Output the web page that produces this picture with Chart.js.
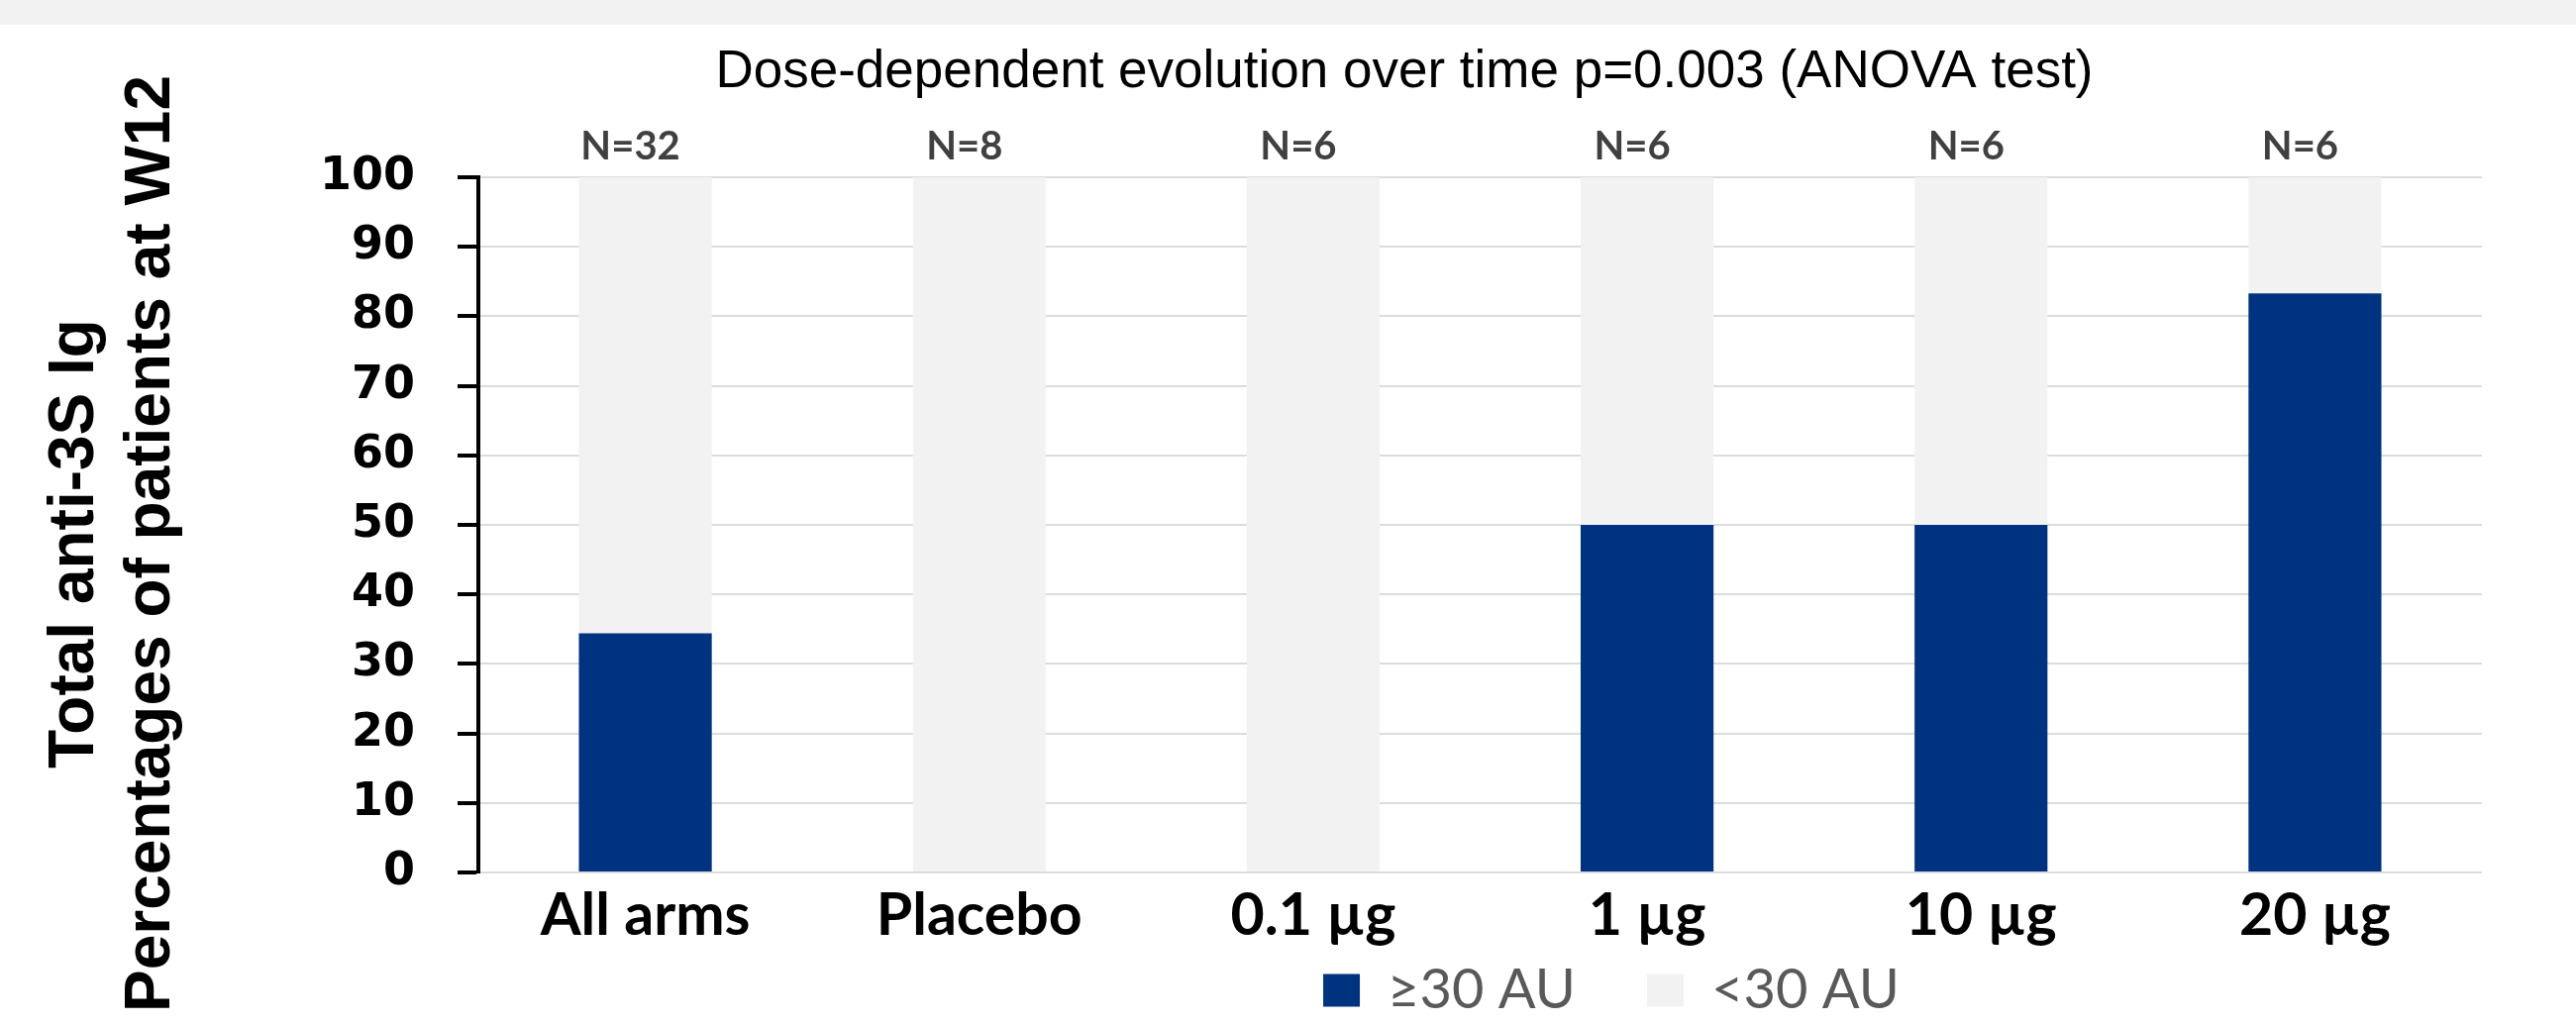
<!DOCTYPE html>
<html>
<head>
<meta charset="utf-8">
<script src="https://cdn.jsdelivr.net/npm/chart.js@4.4.1/dist/chart.umd.min.js"></script>
<style>
  html, body { margin: 0; padding: 0; background: #ffffff; overflow: hidden; }
  #wrap { position: relative; width: 2601px; height: 1034px;
          background: linear-gradient(#f2f2f2 0px, #f2f2f2 25px, #ffffff 25px, #ffffff 100%); }
  canvas { display: block; }
</style>
</head>
<body>
<div id="wrap"><canvas id="c" width="2601" height="1034"></canvas></div>
<script>
// ---- data ----
const categories = ['All arms', 'Placebo', '0.1 µg', '1 µg', '10 µg', '20 µg'];
const groupSizes = ['N=32', 'N=8', 'N=6', 'N=6', 'N=6', 'N=6'];
const above30 = [34.4, 0, 0, 50, 50, 83.3];
const below30 = [65.6, 100, 100, 50, 50, 16.7];
const seriesNames = ['≥30 AU', '<30 AU'];
const titleText = 'Dose-dependent evolution over time p=0.003 (ANOVA test)';
const yTitleLines = ['Total anti-3S Ig', 'Percentages of patients at W12'];

// ---- plugins ----
const shiftBoxes = {
  id: 'shiftBoxes',
  afterLayout(chart) {
    const t = chart.titleBlock;
    if (t) { t.left += 165; t.right += 165; }
    const l = chart.legend;
    if (l) { l.left += 374; l.right += 374; l.top -= 61; l.bottom = chart.height; }
    const ys = chart.scales.y;
    if (ys && !ys._titleShifted) {
      const orig = ys.drawTitle;
      ys.drawTitle = function () {
        this.ctx.save();
        this.ctx.translate(0, 19);
        orig.apply(this, arguments);
        this.ctx.restore();
      };
      ys._titleShifted = true;
    }
  }
};

const groupLabels = {
  id: 'groupLabels',
  afterDatasetsDraw(chart) {
    const ctx = chart.ctx;
    const xs = chart.scales.x;
    const top = chart.chartArea.top;
    ctx.save();
    ctx.font = 'bold 40px Lato';
    ctx.fillStyle = '#404040';
    ctx.textAlign = 'center';
    ctx.textBaseline = 'alphabetic';
    groupSizes.forEach((txt, i) => {
      ctx.fillText(txt, xs.getPixelForValue(i) - 15, top - 18);
    });
    ctx.restore();
  }
};

new Chart(document.getElementById('c'), {
  type: 'bar',
  data: {
    labels: categories,
    datasets: [
      { label: seriesNames[0], data: above30, backgroundColor: '#00337f', borderWidth: 0 },
      { label: seriesNames[1], data: below30, backgroundColor: '#f2f2f2', borderWidth: 0 }
    ]
  },
  options: {
    responsive: false,
    animation: false,
    devicePixelRatio: 1,
    layout: { padding: { left: 0, right: 95, top: 0, bottom: 0 } },
    datasets: { bar: { categoryPercentage: 1, barPercentage: 0.398 } },
    plugins: {
      title: {
        display: true,
        text: titleText,
        color: '#000000',
        font: { family: '"Liberation Sans", Arial, sans-serif', size: 53, weight: 'normal', lineHeight: 1.2 },
        padding: { top: 42, bottom: 73.4 }
      },
      legend: {
        display: true,
        position: 'bottom',
        maxHeight: 73,
        labels: {
          boxWidth: 37,
          boxHeight: 33,
          padding: 72,
          color: '#595959',
          font: { family: 'Lato', size: 56, weight: 'normal' }
        }
      },
      tooltip: { enabled: false }
    },
    scales: {
      x: {
        stacked: true,
        grid: { display: false, drawTicks: false },
        border: { display: false },
        ticks: {
          color: '#000000',
          padding: 9,
          maxRotation: 0,
          autoSkip: false,
          font: { family: 'Lato', size: 59, weight: 'bold' }
        },
        afterFit(scale) { scale.height = 80; }
      },
      y: {
        stacked: true,
        min: 0,
        max: 100,
        ticks: {
          stepSize: 10,
          color: '#000000',
          padding: 43,
          font: { family: '"DejaVu Sans", Verdana, sans-serif', size: 46, weight: 'bold' }
        },
        grid: {
          color: '#dcdcdc',
          lineWidth: 2,
          tickColor: '#000000',
          tickWidth: 4,
          tickLength: 21
        },
        border: { display: true, color: '#000000', width: 4 },
        title: {
          display: true,
          text: yTitleLines,
          color: '#000000',
          font: { family: '"Liberation Sans", Arial, sans-serif', size: 64, weight: 'bold', lineHeight: 1.2 },
          padding: { top: 38, bottom: 0 }
        },
        afterFit(scale) { scale.width = 483; }
      }
    }
  },
  plugins: [shiftBoxes, groupLabels]
});
</script>
</body>
</html>
